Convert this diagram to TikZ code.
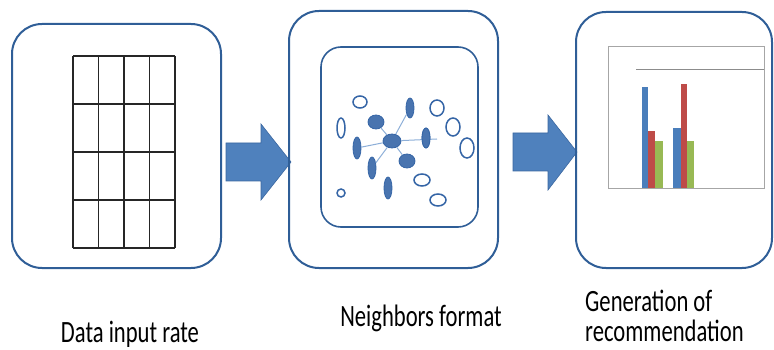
\documentclass[tikz,border=0pt]{standalone}
\usepackage{fontspec}
\usepackage{tikz}
\usetikzlibrary{positioning, shapes.geometric}
\newfontfamily\lblfont[FakeStretch=0.73]{Carlito}
\definecolor{panelblue}{HTML}{2F5E97}
\definecolor{arrowblue}{HTML}{4F81BD}
\definecolor{arrowedge}{HTML}{3A67A0}
\definecolor{dotblue}{HTML}{3565A6}
\definecolor{linkblue}{HTML}{8DAFD8}
\definecolor{barblue}{HTML}{4A7EBB}
\definecolor{barred}{HTML}{BE4B48}
\definecolor{bargreen}{HTML}{98B954}
\tikzset{
    panel/.style={draw=panelblue, line width=2pt, rounded corners=30pt},
    dotopen/.style={ellipse, draw=dotblue, line width=1.5pt, fill=white, inner sep=0pt},
    dotfull/.style={ellipse, draw=dotblue, fill=dotblue!90, line width=0.8pt, inner sep=0pt},
    link/.style={draw=linkblue, line width=1pt},
    blockarrow/.style={fill=arrowblue, draw=arrowedge, line width=0.6pt},
    caption/.style={font=\lblfont\fontsize{31}{30}\selectfont, inner sep=0pt, align=left}
}

\begin{document}
\begin{tikzpicture}[x=1pt, y=-1pt]
    \useasboundingbox (0,0) rectangle (774,350);
    % block arrows between the panels
    \coordinate (A1) at (226,162);
    \coordinate (A2) at (513,152);
    \draw[blockarrow] ([shift={(0,-19)}]A1) -- ([shift={(35,-19)}]A1) -- ([shift={(35,-38)}]A1) -- ([shift={(65,0)}]A1) -- ([shift={(35,38)}]A1) -- ([shift={(35,19)}]A1) -- ([shift={(0,19)}]A1) -- cycle;
    \draw[blockarrow] ([shift={(0,-19)}]A2) -- ([shift={(35,-19)}]A2) -- ([shift={(35,-37)}]A2) -- ([shift={(64,0)}]A2) -- ([shift={(35,38)}]A2) -- ([shift={(35,19)}]A2) -- ([shift={(0,19)}]A2) -- cycle;
    % panels
    \draw[panel] (12,24) rectangle (221,268);
    \draw[panel] (289,11) rectangle (498,268);
    \draw[panel] (576,12) rectangle (772,268);
    % data table
    \foreach \x in {73,98.5,124,149.5,175}
        \draw[black!85, line width=1.3pt] (\x,56) -- (\x,248);
    \foreach \y in {56,104,152,200,248}
        \draw[black!85, line width=1.3pt] (73,\y) -- (175,\y);
    % neighbors
    \draw[panelblue, line width=1.6pt, rounded corners=20pt] (321,47) rectangle (478,227);
    \node[dotfull, minimum width=18pt, minimum height=14pt] (c) at (392,141) {};
    \node[dotfull, minimum width=16pt, minimum height=14pt] (f1) at (376,122) {};
    \node[dotfull, minimum width=8pt, minimum height=20pt] (f2) at (410,108) {};
    \node[dotfull, minimum width=8pt, minimum height=20pt] (f3) at (426,138) {};
    \node[dotfull, minimum width=8pt, minimum height=22pt] (f4) at (357,148) {};
    \node[dotfull, minimum width=16pt, minimum height=14pt] (f5) at (407,161) {};
    \node[dotfull, minimum width=8pt, minimum height=22pt] (f6) at (372,168) {};
    \node[dotfull, minimum width=8pt, minimum height=22pt] (f7) at (388,188) {};
    \node[dotopen, minimum width=14pt, minimum height=12pt] (o1) at (360,102) {};
    \node[dotopen, minimum width=8pt, minimum height=20pt] (o2) at (341,128) {};
    \node[dotopen, minimum width=14pt, minimum height=16pt] (o3) at (437,108) {};
    \node[dotopen, minimum width=14pt, minimum height=18pt] (o4) at (453,127) {};
    \node[dotopen, minimum width=14pt, minimum height=20pt] (o5) at (467,148) {};
    \node[dotopen, minimum width=16pt, minimum height=12pt] (o6) at (422,180) {};
    \node[dotopen, minimum width=8pt, minimum height=8pt] (o7) at (341,193) {};
    \node[dotopen, minimum width=16pt, minimum height=12pt] (o8) at (438,200) {};
    \coordinate (f3tail) at (437,139);
    \draw[link] (c) -- (f1);
    \draw[link] (c) -- (f2);
    \draw[link] (c) -- (f3tail);
    \draw[link] (c) -- (f4);
    \draw[link] (c) -- (f5);
    \draw[link] (c) -- (f6);
    \node[dotfull, minimum width=8pt, minimum height=20pt] at (f3) {};
    % chart
    \draw[black!35, line width=1pt] (608,47) rectangle (764,188);
    \draw[black!45, line width=1pt] (636,70) -- (764,70);
    \fill[barblue] (642,188) rectangle (648,87);
    \fill[barred] (648,188) rectangle (655,131);
    \fill[bargreen] (655,188) rectangle (663,141);
    \fill[barblue] (673,188) rectangle (681,128);
    \fill[barred] (681,188) rectangle (687,84);
    \fill[bargreen] (687,188) rectangle (694,141);
    % captions
    \node[caption, anchor=base] (input) at (130,342) {Data input rate};
    \node[caption, anchor=base] (neigh) at (421,326) {Neighbors format};
    \node[caption, anchor=base west] (recom) at (585,341) {Generation of\\recommendation};
\end{tikzpicture}
\end{document}
